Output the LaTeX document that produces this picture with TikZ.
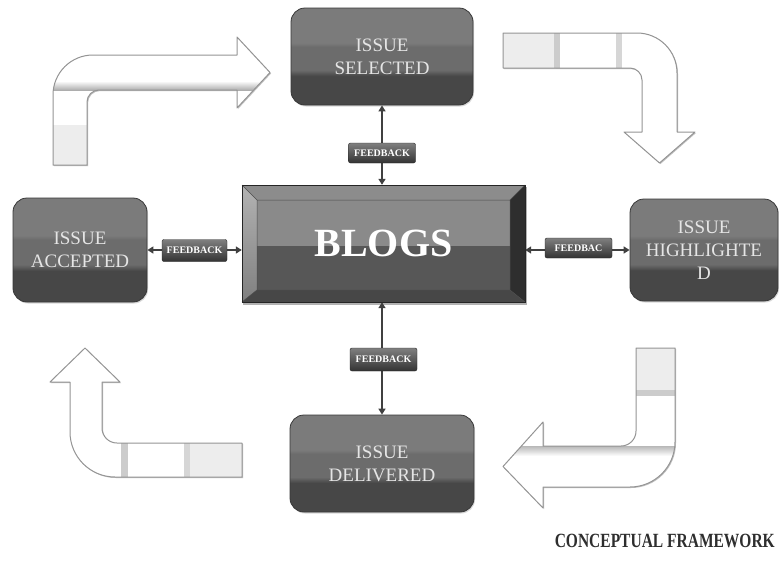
\documentclass[tikz,border=0pt]{standalone}
\usepackage{fontspec}
\setmainfont{Liberation Serif}
\usetikzlibrary{arrows.meta,shadows}
\definecolor{bxlt}{HTML}{7B7B7B}
\definecolor{bxmd}{HTML}{6C6C6C}
\definecolor{bxdk}{HTML}{474747}
\pgfdeclareverticalshading{boxshade}{100bp}{color(0bp)=(bxdk); color(25bp)=(bxdk); color(40bp)=(bxdk); color(43bp)=(bxmd); color(55bp)=(bxmd); color(57bp)=(bxlt); color(75bp)=(bxlt); color(100bp)=(bxlt)}
\tikzset{
  issue/.style={rounded corners=14pt, shading=boxshade, draw=black!78, line width=0.8pt,
    text=black!10, align=center, font=\fontsize{19}{23}\selectfont, inner sep=0pt,
    drop shadow={shadow xshift=1pt, shadow yshift=-1.5pt, opacity=0.3}},
  fb/.style={rounded corners=2pt, top color=black!50, bottom color=black!80, draw=black!85,
    text=white, font=\bfseries\fontsize{10}{11}\selectfont, minimum width=67pt,
    minimum height=21pt, inner sep=0pt},
  conn/.style={draw=black!75, line width=1.5pt,
    {Triangle[length=6pt,width=7pt]}-{Triangle[length=6pt,width=7pt]}},
  bline/.style={draw=black!42, line width=1pt, line join=round},
}
\def\arrowA{(53,165) -- (53,95) .. controls (53,72.9) and (70.9,55) .. (93,55) -- (237,55) -- (237,37) -- (270,72.5) -- (237,108) -- (237,90) -- (99,90) .. controls (92.4,90) and (87,95.4) .. (87,102) -- (87,165) -- cycle}
\def\arrowB{(503,33) -- (637,33) .. controls (659.1,33) and (677,50.9) .. (677,73) -- (677,132) -- (695,132) -- (659.5,163) -- (624,132) -- (642,132) -- (642,80) .. controls (642,73.4) and (636.6,68) .. (630,68) -- (503,68) -- cycle}
\def\arrowC{(636,348) -- (675,348) -- (675,442) .. controls (675,466.8) and (654.8,487) .. (630,487) -- (543,487) -- (543,508) -- (503,466.5) -- (543,422) -- (543,446) -- (621,446) .. controls (629.3,446) and (636,439.3) .. (636,431) -- cycle}
\def\arrowD{(85,348) -- (120,382) -- (102,382) -- (102,428) .. controls (102,436.3) and (108.7,443) .. (117,443) -- (242,443) -- (242,477) -- (115,477) .. controls (90.2,477) and (70,456.8) .. (70,432) -- (70,382) -- (50,382) -- cycle}
\begin{document}
\begin{tikzpicture}[x=1pt,y=-1pt]
\useasboundingbox[fill=white] (0,0) rectangle (779,560);

% block arrows
\fill[black!25] [xshift=1pt,yshift=-1pt] \arrowA;
\fill[white] \arrowA;
\begin{scope}
  \clip \arrowA;
  \fill[black!7] (40,125) rectangle (100,170);
  \shade[top color=white, bottom color=black!32] (40,81) rectangle (290,90);
\end{scope}
\draw[bline] \arrowA;

\fill[black!25] [xshift=1pt,yshift=-1pt] \arrowB;
\fill[white] \arrowB;
\begin{scope}
  \clip \arrowB;
  \fill[black!7] (500,25) rectangle (556,75);
  \fill[black!20] (554,25) rectangle (560,75);
  \fill[black!16] (616,25) rectangle (622,75);
\end{scope}
\draw[bline] \arrowB;

\fill[black!25] [xshift=1pt,yshift=-1pt] \arrowC;
\fill[white] \arrowC;
\begin{scope}
  \clip \arrowC;
  \fill[black!7] (630,340) rectangle (680,392);
  \fill[black!20] (630,390) rectangle (680,396);
  \shade[top color=black!28, bottom color=white] (500,446) rectangle (676,456);
\end{scope}
\draw[bline] \arrowC;

\fill[black!25] [xshift=1pt,yshift=-1pt] \arrowD;
\fill[white] \arrowD;
\begin{scope}
  \clip \arrowD;
  \fill[black!20] (121,440) rectangle (128,480);
  \fill[black!16] (184,440) rectangle (190,480);
  \fill[black!7] (190,440) rectangle (245,480);
\end{scope}
\draw[bline] \arrowD;

% BLOGS bevelled box
\coordinate (onw) at (242,185); \coordinate (one) at (525,185);
\coordinate (ose) at (525,302); \coordinate (osw) at (242,302);
\coordinate (inw) at (257,200); \coordinate (ine) at (510,200);
\coordinate (ise) at (510,290); \coordinate (isw) at (257,290);
\fill[black!30] (243,187) rectangle (527,305);
\fill[black!45] (onw) -- (one) -- (ine) -- (inw) -- cycle;
\shade[top color=black!30, bottom color=black!50] (onw) -- (inw) -- (isw) -- (osw) -- cycle;
\fill[black!82] (one) -- (ose) -- (ise) -- (ine) -- cycle;
\fill[black!72] (osw) -- (isw) -- (ise) -- (ose) -- cycle;
\fill[black!46] (257,200) rectangle (510,246);
\fill[black!66] (257,246) rectangle (510,290);
\draw[black!70, line width=0.5pt] (inw) rectangle (ise)
  (onw) -- (inw) (one) -- (ine) (ose) -- (ise) (osw) -- (isw);
\draw[black!85, line width=1pt] (onw) rectangle (ose);
\node[minimum width=283pt, minimum height=117pt, inner sep=0pt, text=white,
  font=\bfseries\fontsize{40}{40}\selectfont] (blogs) at (383.5,243.5) {\raisebox{-3pt}{BLOGS}};

% issue boxes
\node[issue, minimum width=182pt, minimum height=97pt] (sel) at (382,56.5) {ISSUE\\SELECTED};
\node[issue, minimum width=134pt, minimum height=104pt] (acc) at (80,250) {ISSUE\\ACCEPTED};
\node[issue, minimum width=148pt, minimum height=102pt] (hil) at (704,250) {ISSUE\\HIGHLIGHTE\\D};
\node[issue, minimum width=184pt, minimum height=97pt] (del) at (382,463.5) {ISSUE\\DELIVERED};

% connectors
\draw[conn] (sel.south) -- (sel.south |- blogs.north);
\draw[conn] (acc.east) -- (acc.east -| blogs.west);
\draw[conn] (hil.west -| blogs.east) -- (hil.west);
\draw[conn] (del.north |- blogs.south) -- (del.north);

% feedback labels
\node[fb, minimum height=20pt] (fbT) at (382,153) {FEEDBACK};
\node[fb, minimum width=65pt, minimum height=22pt] (fbL) at (194.5,250.5) {FEEDBACK};
\node[fb, minimum height=20pt] (fbR) at (578.5,248) {FEEDBAC};
\node[fb, minimum height=23pt] (fbB) at (383.5,359.5) {FEEDBACK};

% caption
\node[anchor=base east, font=\bfseries\fontsize{15.5}{16}\selectfont, text=black!82, inner sep=0pt] (cap) at (775,547) {\scalebox{1}[1.3]{CONCEPTUAL FRAMEWORK}};
\end{tikzpicture}
\end{document}
